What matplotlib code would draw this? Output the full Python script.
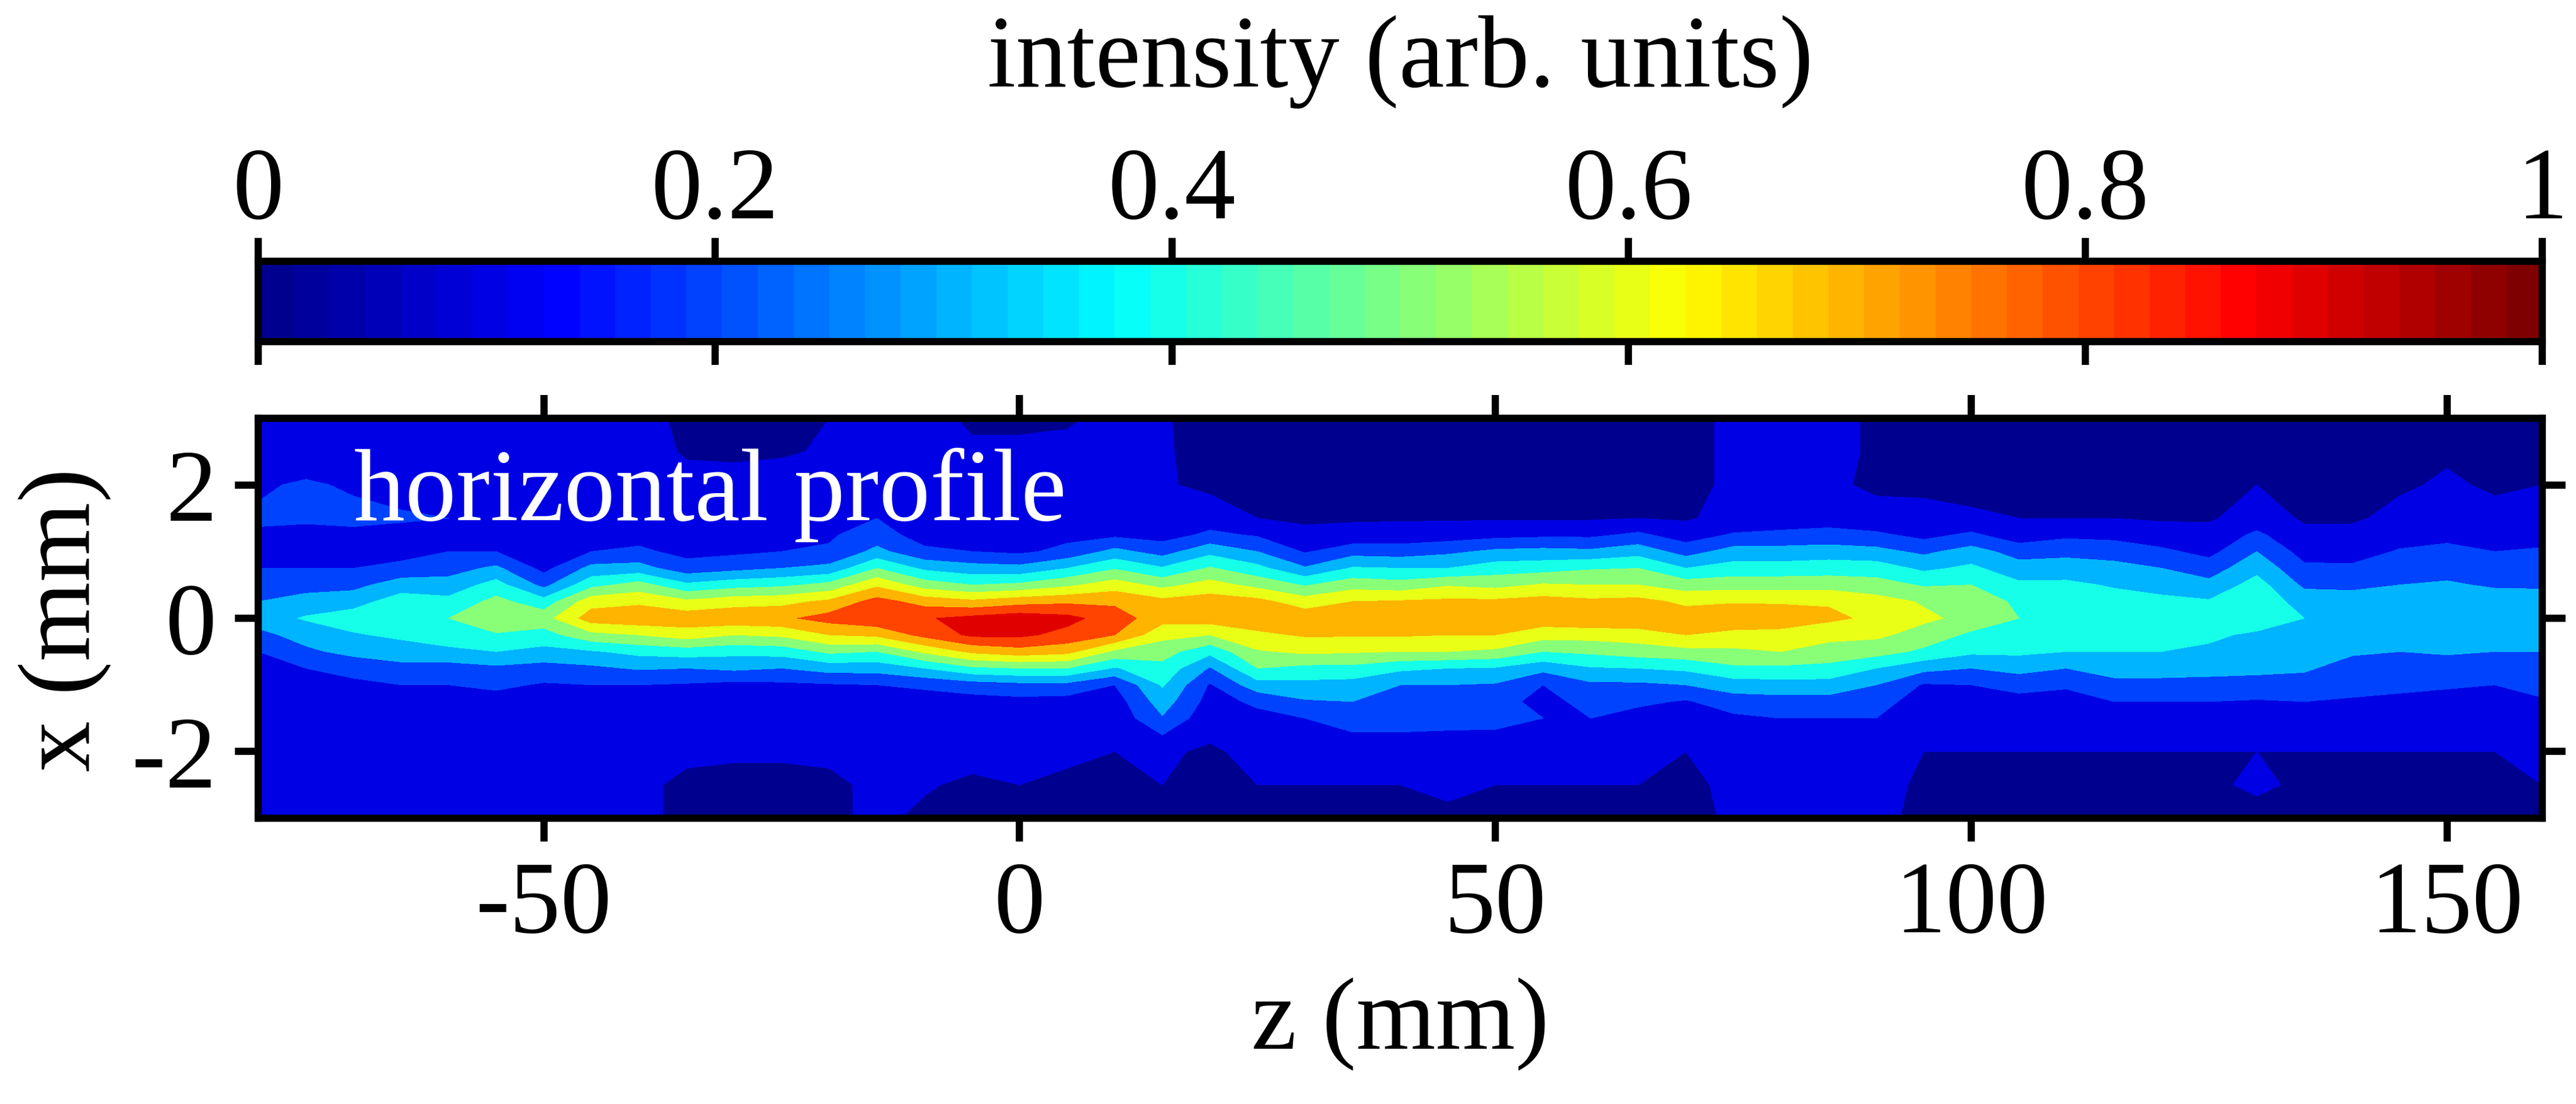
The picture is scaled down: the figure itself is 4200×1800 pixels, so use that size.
import numpy as np
import matplotlib
matplotlib.use("Agg")
import matplotlib.pyplot as plt
from matplotlib.colors import LinearSegmentedColormap

plt.rcParams['font.family'] = ['Liberation Serif', 'DejaVu Serif']
plt.rcParams['axes.unicode_minus'] = False

# positions of the measured profiles (mm)
z_mm = list(range(-80, 161, 5))
x_mm = [3, 2.5, 2, 1.5, 1.25, 1, .75, .5, .25, 0, -.25, -.5, -.75, -1, -1.25, -1.5, -2, -2.5, -3]

# intensity, one line per z, x going from +3 to -3
profiles = [
    [.15, .15, .19, .21, .19, .17, .20, .25, .30, .35, .27, .20, .17, .15, .14, .14, .13, .12, .11],  # -80
    [.14, .15, .21, .21, .18, .17, .20, .26, .34, .41, .34, .28, .20, .17, .15, .13, .12, .12, .11],
    [.14, .15, .19, .22, .18, .16, .20, .27, .36, .45, .39, .33, .23, .18, .16, .15, .14, .12, .11],
    [.14, .15, .17, .21, .17, .16, .23, .35, .45, .50, .42, .35, .27, .20, .19, .20, .14, .12, .12],
    [.13, .14, .16, .20, .18, .20, .26, .34, .43, .50, .47, .37, .26, .20, .17, .17, .15, .12, .11],
    [.14, .14, .15, .17, .17, .20, .32, .44, .53, .57, .49, .40, .28, .22, .16, .16, .13, .12, .11],  # -55
    [.14, .14, .15, .15, .15, .16, .17, .27, .44, .56, .46, .37, .26, .19, .16, .14, .12, .12, .12],
    [.13, .14, .14, .16, .17, .20, .33, .47, .66, .75, .57, .39, .28, .20, .17, .17, .13, .12, .12],
    [.13, .14, .15, .16, .16, .22, .34, .54, .68, .77, .60, .43, .31, .20, .17, .16, .12, .11, .11],
    [.08, .09, .13, .15, .16, .17, .24, .42, .62, .76, .65, .45, .30, .19, .15, .13, .11, .09, .09],
    [.08, .08, .14, .16, .16, .18, .27, .46, .66, .77, .60, .43, .32, .17, .14, .12, .11, .08, .08],  # -30
    [.08, .09, .14, .16, .18, .20, .30, .48, .67, .78, .62, .44, .30, .18, .14, .13, .11, .08, .08],
    [.10, .11, .13, .17, .19, .21, .33, .53, .72, .84, .70, .52, .34, .19, .15, .13, .11, .09, .09],
    [.12, .14, .16, .20, .24, .33, .50, .68, .84, .88, .72, .50, .34, .20, .16, .20, .12, .11, .11],
    [.12, .13, .14, .15, .16, .22, .38, .55, .76, .89, .83, .62, .40, .22, .15, .13, .12, .105, .09],
    [.09, .11, .13, .14, .15, .20, .34, .50, .72, .93, .92, .72, .48, .25, .16, .14, .12, .09, .08],  # -5
    [.09, .11, .13, .14, .16, .18, .33, .52, .76, .96, .92, .76, .50, .27, .17, .14, .12, .10, .08],
    [.095, .11, .11, .14, .17, .23, .40, .58, .78, .93, .87, .73, .50, .27, .16, .14, .11, .09, .09],
    [.11, .12, .13, .15, .18, .33, .49, .65, .78, .85, .80, .58, .39, .20, .15, .13, .10, .09, .09],
    [.11, .11, .11, .14, .16, .26, .41, .57, .73, .74, .63, .54, .47, .41, .35, .29, .11, .10, .08],
    [.06, .07, .08, .15, .22, .37, .51, .64, .75, .75, .60, .43, .29, .19, .16, .13, .09, .07, .06],  # 20
    [.07, .07, .08, .10, .19, .30, .43, .57, .73, .76, .68, .59, .50, .36, .22, .17, .12, .10, .07],
    [.06, .06, .07, .08, .13, .19, .31, .49, .65, .76, .71, .62, .47, .37, .29, .20, .12, .10, .06],
    [.06, .07, .07, .09, .13, .26, .41, .56, .70, .78, .71, .61, .47, .36, .30, .25, .13, .10, .07],
    [.07, .07, .07, .09, .14, .25, .40, .54, .71, .80, .71, .60, .42, .30, .28, .25, .13, .10, .08],
    [.07, .08, .07, .09, .15, .28, .40, .59, .72, .79, .70, .60, .40, .30, .26, .24, .13, .12, .08],  # 45
    [.07, .07, .07, .09, .17, .32, .45, .57, .72, .78, .70, .58, .39, .29, .26, .24, .12, .10, .09],
    [.07, .07, .07, .09, .18, .33, .46, .61, .74, .76, .64, .50, .33, .20, .15, .20, .11, .10, .09],
    [.07, .07, .07, .09, .18, .32, .49, .60, .72, .78, .64, .52, .39, .28, .25, .20, .11, .10, .08],
    [.07, .07, .07, .10, .22, .36, .50, .60, .73, .78, .65, .55, .40, .28, .22, .16, .11, .10, .08],
    [.07, .07, .07, .09, .15, .26, .40, .55, .68, .75, .70, .57, .42, .30, .19, .14, .10, .09, .08],  # 70
    [.12, .12, .12, .13, .21, .34, .44, .56, .69, .77, .67, .58, .48, .35, .25, .18, .11, .11, .11],
    [.12, .12, .12, .15, .22, .34, .44, .56, .69, .75, .67, .60, .48, .36, .26, .20, .12, .11, .11],
    [.12, .12, .11, .16, .23, .35, .45, .56, .69, .72, .63, .56, .47, .36, .26, .20, .13, .12, .11],
    [.09, .09, .09, .12, .22, .33, .45, .54, .64, .68, .62, .54, .40, .30, .25, .20, .12, .12, .11],
    [.08, .08, .08, .13, .17, .28, .38, .49, .59, .62, .56, .48, .33, .19, .14, .11, .10, .09, .09],  # 95
    [.08, .08, .08, .11, .22, .34, .42, .50, .56, .57, .48, .42, .30, .20, .14, .11, .10, .08, .07],
    [.08, .08, .08, .10, .14, .26, .34, .42, .48, .50, .46, .42, .33, .24, .16, .12, .10, .07, .07],
    [.08, .08, .08, .10, .18, .27, .35, .42, .46, .50, .45, .40, .30, .22, .14, .11, .10, .08, .07],
    [.08, .08, .08, .10, .17, .26, .33, .39, .44, .46, .43, .40, .34, .27, .20, .14, .10, .08, .07],
    [.07, .07, .07, .09, .14, .22, .30, .37, .42, .45, .43, .40, .34, .27, .20, .14, .10, .10, .07],  # 120
    [.08, .07, .08, .09, .13, .17, .25, .33, .41, .45, .42, .38, .33, .27, .20, .12, .10, .09, .07],
    [.07, .07, .10, .14, .22, .30, .37, .44, .46, .47, .38, .36, .32, .27, .19, .12, .10, .11, .08],
    [.07, .07, .08, .09, .12, .16, .22, .28, .36, .40, .39, .35, .31, .27, .20, .13, .10, .09, .07],
    [.07, .07, .08, .09, .12, .15, .22, .28, .34, .37, .36, .31, .27, .23, .19, .12, .10, .09, .08],
    [.08, .08, .09, .12, .15, .21, .26, .30, .36, .39, .37, .30, .26, .22, .18, .13, .10, .09, .08],  # 145
    [.08, .09, .11, .13, .17, .23, .27, .31, .36, .39, .36, .31, .26, .21, .17, .13, .10, .10, .08],
    [.08, .08, .09, .12, .17, .20, .25, .29, .34, .37, .34, .30, .25, .20, .17, .13, .10, .09, .08],
    [.10, .09, .10, .13, .17, .21, .25, .29, .33, .36, .33, .30, .26, .23, .19, .14, .11, .10, .09],  # 160
]

contour_levels = [0, .1, .2, .3, .4, .5, .6, .7, .8, .9, 1]
cbar_ticks = [0, .2, .4, .6, .8, 1]
cbar_labels = ['0', '0.2', '0.4', '0.6', '0.8', '1']
z_ticks = [-50, 0, 50, 100, 150]
x_ticks = [-2, 0, 2]

# same jet as matlab, 64 steps
jet64 = LinearSegmentedColormap.from_list(
    'jet64',
    [(0, (0, 0, .5625)), (.125, (0, 0, 1)), (.375, (0, 1, 1)),
     (.625, (1, 1, 0)), (.875, (1, 0, 0)), (1, (.5, 0, 0))],
    N=64)

W, H = 4200, 1800
LW = 2.8
TICK_LEN = 9.2
FS = 40


def axes_px(left, top, right, bottom):
    # rectangle in pixels of the figure, measured from the top left
    return [left / W, 1 - bottom / H, (right - left) / W, (bottom - top) / H]


fig = plt.figure(figsize=(14, 6), dpi=300)

# colour bar
cax = fig.add_axes(axes_px(421, 426, 4145, 557))
cax.imshow(np.arange(64)[None, :], extent=[0, 1, 0, 1], aspect='auto', cmap=jet64,
           interpolation='nearest')
cax.set_xlim(0, 1)
cax.set_yticks([])
cax.set_xticks(cbar_ticks)
cax.set_xticklabels(cbar_labels)
cax.tick_params(axis='x', which='both', top=True, bottom=True, labeltop=True, labelbottom=False,
                direction='out', length=TICK_LEN, width=LW, labelsize=FS, pad=-1)
cax.set_title('intensity (arb. units)', fontsize=FS, y=1, pad=68.5)

# contour map
ax = fig.add_axes(axes_px(421, 682, 4145, 1334))
Z = np.array(profiles).T
fill_colors = [jet64(lev) for lev in contour_levels[:-1]]
ax.contourf(z_mm, x_mm[::-1], Z[::-1], levels=contour_levels, colors=fill_colors)
ax.set_xlim(-80, 160)
ax.set_ylim(-3, 3)
ax.set_xticks(z_ticks)
ax.set_yticks(x_ticks)
ax.tick_params(axis='both', which='both', top=True, bottom=True, left=True, right=True,
               direction='out', length=TICK_LEN, width=LW, labelsize=FS)
ax.tick_params(axis='x', pad=7.6)
ax.tick_params(axis='y', pad=7)
ax.set_xlabel('z (mm)', fontsize=FS, labelpad=9)
ax.set_ylabel('x (mm)', fontsize=FS)
ax.yaxis.set_label_coords(-.064, .497)
ax.text(.042, .745, 'horizontal profile', color='white', fontsize=FS, transform=ax.transAxes)

for a in (ax, cax):
    for spine in a.spines.values():
        spine.set_linewidth(LW)

fig.savefig('out.png', dpi=300)
